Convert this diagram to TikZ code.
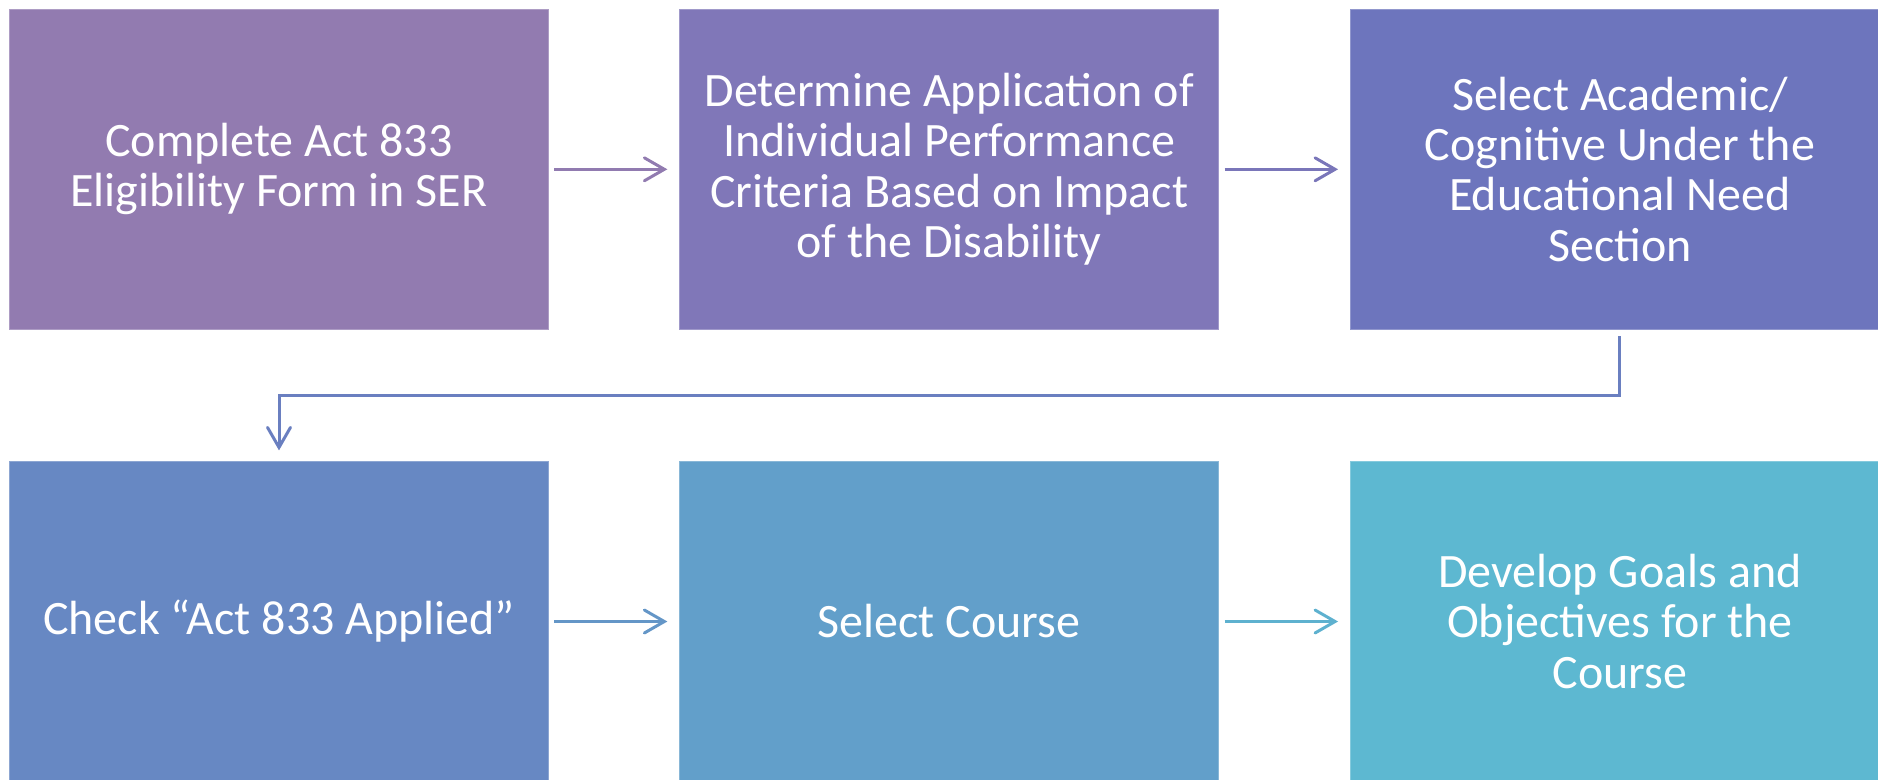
\documentclass[tikz,border=0pt]{standalone}
\usepackage{fontspec}
\setmainfont{Carlito}
\usepackage{xcolor}
\usetikzlibrary{arrows.meta, positioning, calc}
\definecolor{stepA}{HTML}{927BB0}
\definecolor{stepB}{HTML}{8077B8}
\definecolor{stepC}{HTML}{6D75BD}
\definecolor{stepD}{HTML}{6788C3}
\definecolor{stepE}{HTML}{629FCA}
\definecolor{stepF}{HTML}{5DB8D1}
\newcommand{\flowArrow}{{Straight Barb[length=4mm, width=4.6mm, line cap=round]}}
\tikzset{
	stepbox/.style={rectangle, minimum width=10.78cm, minimum height=6.39cm, inner sep=0pt,
		text=white, align=center, font=\fontsize{27.3}{28.6}\selectfont, draw=#1!75!white, line width=0.4pt, fill=#1},
	flowlink/.style={draw=#1, line width=0.06cm, -\flowArrow}
}

\begin{document}
\begin{tikzpicture}
	\useasboundingbox (0,0) rectangle (37.56,-15.58);
	\clip (0,0) rectangle (37.56,-15.58);

	\node[stepbox=stepA] (s1) at (5.58,-3.386) {Complete Act 833\\Eligibility Form in SER};
	\node[stepbox=stepB, right=2.61cm of s1] (s2) {Determine Application of\\Individual Performance\\Criteria Based on Impact\\of the Disability};
	\node[stepbox=stepC, right=2.62cm of s2] (s3) {Select Academic/\\Cognitive Under the\\Educational Need\\Section};

	\node[stepbox=stepD, below=2.64cm of s1] (s4) {Check “Act 833 Applied”};
	\node[stepbox=stepE, right=2.61cm of s4] (s5) {Select Course};
	\node[stepbox=stepF, right=2.62cm of s5] (s6) {Develop Goals and\\Objectives for the\\Course};

	\draw[flowlink=stepA!95!stepB, shorten <=0.11cm, shorten >=0.24cm]	(s1) -- (s2);
	\draw[flowlink=stepB!70!stepC, shorten <=0.11cm, shorten >=0.24cm]	(s2) -- (s3);
	\draw[flowlink=stepC!50!stepD, shorten <=0.14cm, shorten >=0.22cm]	(s3.south) --++ (0,-1.32) -| (s4.north);
	\draw[flowlink=stepD!40!stepE, shorten <=0.11cm, shorten >=0.24cm]	(s4) -- (s5);
	\draw[flowlink=stepE!30!stepF, shorten <=0.11cm, shorten >=0.24cm]	(s5) -- (s6);
\end{tikzpicture}
\end{document}
